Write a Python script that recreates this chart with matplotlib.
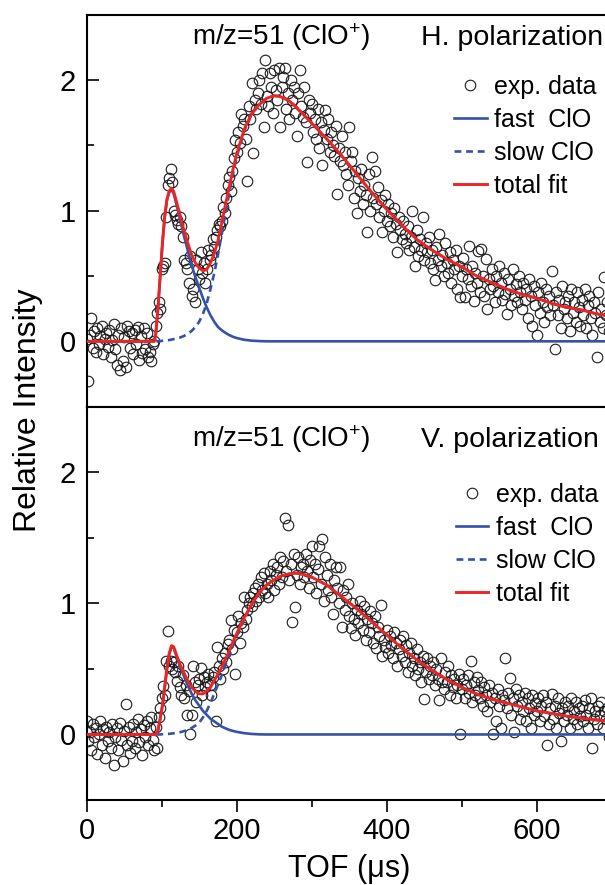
import matplotlib
matplotlib.use('Agg')
import matplotlib.pyplot as plt
import numpy as np
from matplotlib.ticker import MultipleLocator
from matplotlib.lines import Line2D

plt.rcParams['font.family'] = ['Liberation Sans', 'DejaVu Sans']
plt.rcParams['mathtext.fontset'] = 'custom'
plt.rcParams['mathtext.rm'] = 'Liberation Sans'
plt.rcParams['mathtext.it'] = 'Liberation Sans:italic'

# ---------------- data ----------------
tof = np.arange(0, 700, 2)  # TOF bins (us)

exp_H = [
    0.02, -0.30, 0.05, 0.18, -0.05, 0.08, -0.08, 0.10, -0.02, 0.04,
    0.12, -0.10, 0.02, 0.06, -0.04, 0.09, -0.12, 0.01, 0.13, -0.06,
    -0.18, 0.05, -0.22, 0.10, -0.15, 0.03, -0.20, 0.12, 0.08, -0.05,
    0.06, -0.10, 0.09, -0.02, 0.11, -0.14, 0.04, -0.09, 0.10, -0.06,
    0.06, -0.12, -0.08, -0.15, -0.02, 0.00, 0.12, 0.22, 0.30, 0.25,
    0.55, 0.58, 0.60, 0.95, 1.20, 1.25, 1.32, 1.22, 1.00, 0.97,
    0.93, 0.90, 0.95, 0.88, 0.80, 0.62, 0.60, 0.55, 0.45, 0.65,
    0.35, 0.40, 0.30, 0.62, 0.55, 0.48, 0.68, 0.52, 0.60, 0.45,
    0.55, 0.70, 0.62, 0.66, 0.78, 0.72, 0.80, 0.85, 0.90, 0.88,
    0.92, 1.03, 0.98, 1.10, 1.20, 1.26, 1.15, 1.30, 1.40, 1.54,
    1.45, 1.60, 1.52, 1.74, 1.65, 1.70, 1.55, 1.23, 1.80, 1.70,
    1.98, 1.44, 1.85, 1.78, 1.90, 2.00, 1.82, 2.05, 1.64, 2.15,
    1.88, 1.80, 2.05, 1.95, 1.75, 2.08, 1.92, 1.85, 2.09, 1.64,
    1.95, 2.02, 2.09, 1.78, 1.90, 1.70, 2.00, 1.85, 1.95, 1.75,
    1.57, 1.90, 2.08, 1.80, 1.72, 1.95, 1.68, 1.37, 1.85, 1.75,
    1.82, 1.60, 1.70, 1.55, 1.78, 1.48, 1.68, 1.35, 1.62, 1.77,
    1.55, 1.70, 1.45, 1.60, 1.50, 1.42, 1.65, 1.13, 1.48, 1.38,
    1.57, 1.35, 1.45, 1.28, 1.20, 1.64, 1.38, 1.45, 1.10, 1.30,
    0.98, 1.25, 1.15, 1.32, 1.05, 1.20, 1.12, 0.84, 1.28, 1.00,
    1.41, 1.10, 1.30, 1.05, 1.18, 0.95, 1.08, 0.84, 1.00, 1.12,
    0.92, 1.05, 0.88, 0.98, 0.80, 1.02, 0.90, 0.68, 0.95, 0.85,
    0.78, 0.92, 0.82, 0.75, 0.88, 0.70, 0.80, 1.00, 0.72, 0.58,
    0.85, 0.65, 0.78, 0.70, 0.95, 0.62, 0.75, 0.68, 0.80, 0.60,
    0.70, 0.55, 0.47, 0.72, 0.62, 0.82, 0.58, 0.66, 0.50, 0.75,
    0.60, 0.52, 0.68, 0.45, 0.62, 0.55, 0.70, 0.40, 0.58, 0.34,
    0.50, 0.64, 0.34, 0.55, 0.48, 0.73, 0.42, 0.58, 0.31, 0.52,
    0.45, 0.69, 0.38, 0.71, 0.50, 0.35, 0.63, 0.25, 0.48, 0.40,
    0.55, 0.42, 0.30, 0.50, 0.38, 0.58, 0.45, 0.32, 0.52, 0.36,
    0.21, 0.48, 0.40, 0.28, 0.55, 0.35, 0.44, 0.30, 0.50, 0.38,
    0.25, 0.45, 0.32, 0.40, 0.18, 0.48, 0.35, 0.12, 0.42, 0.28,
    0.05, 0.38, 0.22, 0.45, 0.30, 0.15, 0.40, 0.26, 0.35, 0.20,
    0.54, 0.28, -0.06, 0.38, 0.20, 0.32, 0.10, 0.42, 0.25, 0.30,
    0.18, 0.35, 0.08, 0.40, 0.22, 0.30, 0.15, 0.38, 0.26, 0.12,
    0.32, 0.20, 0.40, 0.10, 0.28, 0.35, 0.18, 0.05, 0.30, 0.22,
    -0.12, 0.38, 0.15, 0.25, 0.10, 0.49, 0.20, 0.30, 0.08, 0.22,
]

exp_V = [
    0.10, -0.05, 0.02, -0.12, 0.08, -0.02, 0.05, -0.15, 0.00, 0.10,
    -0.08, 0.04, -0.18, 0.06, -0.05, 0.02, -0.10, 0.08, -0.23, -0.02,
    0.05, -0.12, 0.09, -0.04, -0.20, 0.03, 0.23, -0.08, 0.06, -0.14,
    -0.05, 0.08, -0.10, 0.02, 0.12, -0.06, 0.04, -0.16, 0.07, -0.02,
    0.10, -0.08, 0.05, 0.13, -0.04, -0.12, 0.06, -0.10, 0.13, 0.20,
    0.28, 0.37, 0.30, 0.56, 0.79, 0.52, 0.56, 0.50, 0.55, 0.48,
    0.41, 0.52, 0.36, 0.30, 0.45, 0.28, 0.38, 0.15, 0.33, 0.00,
    0.15, 0.52, 0.40, 0.25, 0.38, 0.42, 0.51, 0.30, 0.44, 0.36,
    0.40, 0.46, 0.38, 0.30, 0.44, 0.48, 0.10, 0.67, 0.52, 0.42,
    0.58, 0.50, 0.62, 0.55, 0.69, 0.72, 0.87, 0.65, 0.80, 0.46,
    0.78, 0.90, 0.70, 0.85, 0.82, 1.05, 0.88, 0.95, 1.00, 1.05,
    0.98, 1.08, 1.12, 1.02, 1.15, 1.05, 1.20, 1.10, 1.23, 1.08,
    1.15, 1.05, 1.25, 1.18, 1.30, 1.10, 1.22, 1.28, 1.15, 1.35,
    1.20, 1.32, 1.65, 1.25, 1.60, 1.18, 1.30, 0.86, 1.38, 0.97,
    1.22, 1.35, 1.15, 1.28, 1.30, 1.20, 1.38, 1.25, 1.12, 1.33,
    1.44, 1.20, 1.30, 1.08, 1.26, 1.44, 1.15, 1.49, 1.02, 1.35,
    1.22, 1.10, 1.30, 1.05, 0.92, 1.18, 1.28, 1.12, 1.00, 1.28,
    0.82, 1.10, 0.95, 1.05, 1.15, 0.90, 0.81, 1.00, 0.88, 0.76,
    0.95, 0.85, 1.02, 0.92, 0.80, 0.98, 0.72, 0.88, 0.78, 0.94,
    0.85, 0.70, 0.90, 0.66, 0.82, 0.75, 0.99, 0.60, 0.72, 0.67,
    0.80, 0.62, 0.75, 0.68, 0.58, 0.78, 0.70, 0.52, 0.65, 0.72,
    0.60, 0.75, 0.55, 0.68, 0.48, 0.62, 0.70, 0.52, 0.58, 0.45,
    0.65, 0.50, 0.55, 0.40, 0.60, 0.27, 0.48, 0.58, 0.42, 0.52,
    0.45, 0.55, 0.38, 0.50, 0.42, 0.26, 0.58, 0.40, 0.35, 0.48,
    0.40, 0.52, 0.30, 0.45, 0.36, 0.42, 0.28, 0.38, 0.46, 0.00,
    0.35, 0.42, 0.28, 0.38, 0.45, 0.32, 0.56, 0.25, 0.40, 0.30,
    0.44, 0.34, 0.28, 0.40, 0.22, 0.36, 0.30, 0.18, 0.38, 0.25,
    0.32, 0.00, 0.28, 0.10, 0.35, 0.22, 0.05, 0.30, 0.26, 0.58,
    0.20, 0.32, 0.43, 0.15, 0.28, 0.02, 0.35, 0.22, 0.30, 0.12,
    0.25, 0.18, 0.32, 0.10, 0.28, 0.20, 0.05, 0.30, 0.15, 0.24,
    0.18, 0.28, 0.10, 0.22, 0.30, 0.14, 0.25, -0.08, 0.08, 0.20,
    0.31, 0.12, 0.22, 0.05, 0.28, 0.16, -0.05, 0.20, 0.10, 0.25,
    0.15, 0.22, 0.05, 0.28, 0.12, 0.18, 0.25, 0.08, 0.20, 0.14,
    0.22, 0.10, 0.26, 0.15, 0.05, 0.20, 0.28, -0.10, 0.12, 0.18,
    0.08, 0.22, 0.15, 0.25, 0.05, 0.18, 0.12, 0.20, -0.02, 0.15,
]

fit_x = [0, 90, 92, 95, 98, 101, 104, 107, 110, 113,
         116, 120, 125, 130, 135, 140, 145, 150, 155, 160,
         165, 170, 175, 180, 185, 190, 195, 200, 210, 220,
         230, 240, 250, 260, 270, 280, 290, 300, 320, 340,
         360, 380, 400, 420, 440, 460, 480, 500, 520, 540,
         560, 580, 600, 620, 640, 660, 680, 700]

fast_H = [0, 0, 0.05, 0.25, 0.50, 0.75, 0.95, 1.08, 1.14, 1.16,
          1.13, 1.04, 0.92, 0.80, 0.69, 0.58, 0.49, 0.41, 0.33, 0.26,
          0.20, 0.15, 0.11, 0.085, 0.065, 0.048, 0.035, 0.025, 0.012, 0.005,
          0.002, 0, 0, 0, 0, 0, 0, 0, 0, 0,
          0, 0, 0, 0, 0, 0, 0, 0, 0, 0,
          0, 0, 0, 0, 0, 0, 0, 0]
slow_H = [0, 0, 0, 0, 0.002, 0.004, 0.006, 0.008, 0.010, 0.013,
          0.017, 0.022, 0.030, 0.042, 0.058, 0.080, 0.11, 0.15, 0.21, 0.29,
          0.40, 0.52, 0.66, 0.82, 0.98, 1.13, 1.28, 1.41, 1.61, 1.74,
          1.81, 1.86, 1.88, 1.87, 1.84, 1.79, 1.73, 1.67, 1.55, 1.42,
          1.28, 1.14, 1.01, 0.89, 0.78, 0.70, 0.63, 0.57, 0.50, 0.45,
          0.40, 0.36, 0.33, 0.29, 0.26, 0.24, 0.21, 0.19]

fast_V = [0, 0, 0, 0.03, 0.12, 0.22, 0.36, 0.50, 0.61, 0.67,
          0.66, 0.59, 0.51, 0.44, 0.37, 0.31, 0.26, 0.22, 0.18, 0.15,
          0.12, 0.10, 0.08, 0.06, 0.047, 0.035, 0.027, 0.020, 0.010, 0.004,
          0.001, 0, 0, 0, 0, 0, 0, 0, 0, 0,
          0, 0, 0, 0, 0, 0, 0, 0, 0, 0,
          0, 0, 0, 0, 0, 0, 0, 0]
slow_V = [0, 0, 0, 0, 0, 0.002, 0.003, 0.004, 0.005, 0.007,
          0.009, 0.012, 0.018, 0.026, 0.037, 0.050, 0.068, 0.09, 0.13, 0.18,
          0.24, 0.31, 0.38, 0.45, 0.53, 0.60, 0.68, 0.75, 0.88, 0.99,
          1.08, 1.14, 1.18, 1.21, 1.225, 1.23, 1.22, 1.20, 1.14, 1.05,
          0.96, 0.86, 0.76, 0.66, 0.57, 0.49, 0.42, 0.36, 0.31, 0.27,
          0.24, 0.21, 0.18, 0.16, 0.14, 0.125, 0.11, 0.10]

panels = [
    dict(exp=exp_H, fast=fast_H, slow=slow_H, pol='H. polarization'),
    dict(exp=exp_V, fast=fast_V, slow=slow_V, pol='V. polarization'),
]
labels = ['exp. data', 'fast  ClO', 'slow ClO', 'total fit']

# ---------------- styling ----------------
RED = '#ee2424'
BLUE = '#3452a8'

fig = plt.figure(figsize=(6.05, 8.85), dpi=100)
ax_top = fig.add_axes([0.1433, 0.5405, 0.8678, 0.4429])
ax_bot = fig.add_axes([0.1433, 0.0960, 0.8678, 0.4445])

text_y = [2.27, 2.19]
leg_anchor = [(0.70, 0.847), (0.703, 0.806)]

for i, (ax, p) in enumerate(zip([ax_top, ax_bot], panels)):
    fast = np.array(p['fast'])
    slow = np.array(p['slow'])
    total = fast + slow
    ax.plot(tof, p['exp'], ls='none', marker='o', ms=7.6, mfc='none',
            mec='#1a1a1a', mew=0.8, zorder=2)
    ax.plot(fit_x, fast, color=BLUE, lw=1.9, zorder=3)
    ax.plot(fit_x, slow, color=BLUE, lw=1.9, ls=(0, (2.6, 1.8)), zorder=3)
    ax.plot(fit_x, total, color=RED, lw=2.1, zorder=4)

    ax.set_xlim(0, 700)
    ax.set_ylim(-0.5, 2.5)
    ax.xaxis.set_major_locator(MultipleLocator(200))
    ax.xaxis.set_minor_locator(MultipleLocator(100))
    ax.yaxis.set_major_locator(MultipleLocator(1))
    ax.yaxis.set_minor_locator(MultipleLocator(0.5))
    ax.tick_params(axis='y', which='both', direction='in', labelsize=21,
                   pad=8, width=1.2, right=False)
    ax.tick_params(axis='y', which='major', length=8.5)
    ax.tick_params(axis='y', which='minor', length=5)
    ax.tick_params(axis='x', which='both', direction='out', labelsize=21,
                   pad=4, width=1.2, top=False)
    ax.tick_params(axis='x', which='major', length=8.5)
    ax.tick_params(axis='x', which='minor', length=5)
    for s in ax.spines.values():
        s.set_linewidth(1.5)
    if i == 0:
        ax.tick_params(axis='x', labelbottom=False)

    ax.text(140, text_y[i], 'm/z=51 (ClO$^{+}$)', fontsize=20,
            va='baseline', ha='left')
    ax.text(446, text_y[i], p['pol'], fontsize=20.5, va='baseline', ha='left')

    handles = [
        Line2D([], [], ls='none', marker='o', ms=7.6, mfc='none', mec='#1a1a1a', mew=0.8),
        Line2D([], [], color=BLUE, lw=1.9),
        Line2D([], [], color=BLUE, lw=1.9, ls=(0, (2.6, 1.8))),
        Line2D([], [], color=RED, lw=2.1),
    ]
    ax.legend(handles, labels, loc='upper left', bbox_to_anchor=leg_anchor[i],
              frameon=False, fontsize=18, handlelength=1.3, handletextpad=0.3,
              labelspacing=0.36, borderpad=0, borderaxespad=0)

fig.text(0.047, (885 - 410) / 885, 'Relative Intensity', rotation=90,
         ha='center', va='center', fontsize=23)
fig.text(349 / 605, 8 / 885, 'TOF (μs)', ha='center', va='baseline', fontsize=22)

fig.savefig('out.png', dpi=100)
